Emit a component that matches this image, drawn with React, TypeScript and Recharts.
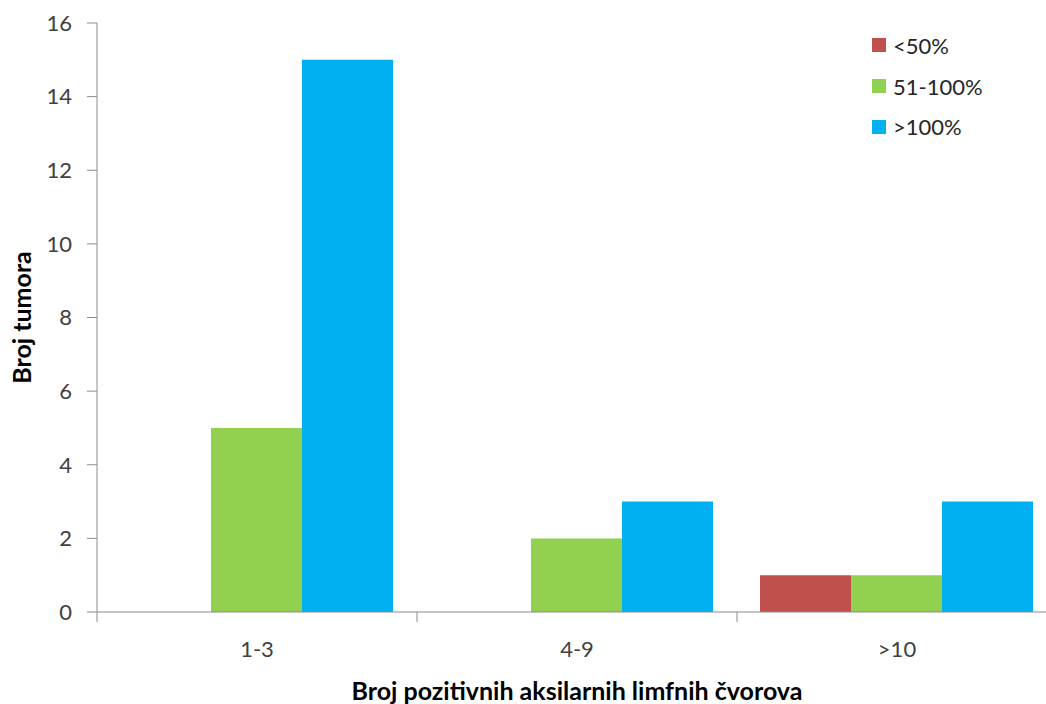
import { BarChart, Bar, XAxis, YAxis, Label } from 'recharts';

const categories = ['1-3', '4-9', '>10'];
const seriesNames = ['<50%', '51-100%', '>100%'];
const below50 = [0, 0, 1];
const from51to100 = [5, 2, 1];
const above100 = [15, 3, 3];
const yTicks = [0, 2, 4, 6, 8, 10, 12, 14, 16];

const colors = ['#C0504D', '#92D050', '#00B0F0'];
const font = 'Lato, "Open Sans", sans-serif';

const data = categories.map((c, i) => ({
  cat: c,
  a: below50[i],
  b: from51to100[i],
  c: above100[i],
}));

const HALF_BAND = 160;

function XTick(props: any) {
  const { x, y, payload, index } = props;
  const left = x - HALF_BAND;
  const last = index === categories.length - 1;
  return (
    <g>
      <line x1={left} x2={left} y1={y - 10} y2={y} stroke="#8c8c8c" />
      {last && <line x1={x + HALF_BAND} x2={x + HALF_BAND} y1={y - 10} y2={y} stroke="#8c8c8c" />}
      <text x={x} y={y + 26} textAnchor="middle" dominantBaseline="central" fill="#404040" fontSize={22} fontFamily={font}>
        {payload.value}
      </text>
    </g>
  );
}

function LegendBox() {
  return (
    <div style={{ position: 'absolute', left: 872, top: 25, fontFamily: font, fontSize: 22, color: '#262626' }}>
      {seriesNames.map((n, i) => (
        <div key={n} style={{ height: 40.7, display: 'flex', alignItems: 'center' }}>
          <span style={{ width: 14, height: 14, background: colors[i], display: 'inline-block', marginRight: 7 }} />
          <span>{n}</span>
        </div>
      ))}
    </div>
  );
}

export default function App() {
  return (
    <div style={{ position: 'absolute', left: 0, top: 0, width: 1046, height: 704, overflow: 'hidden', background: '#fff' }}>
      <BarChart
        width={1060}
        height={704}
        data={data}
        margin={{ top: 23, right: 3, left: 0, bottom: 0 }}
        barCategoryGap={23}
        barGap={0}
      >
        <XAxis
          dataKey="cat"
          height={92}
          stroke="#8c8c8c"
          tickLine={false}
          tickSize={10}
          tickMargin={0}
          tick={<XTick />}
          interval={0}
        >
          <Label
            content={({ viewBox }: any) => (
              <text
                x={viewBox.x + viewBox.width / 2}
                y={690}
                textAnchor="middle"
                dominantBaseline="central"
                fontWeight="bold"
                fontSize={25}
                fontFamily={font}
                fill="#000"
              >
                Broj pozitivnih aksilarnih limfnih čvorova
              </text>
            )}
          />
        </XAxis>
        <YAxis
          width={97}
          domain={[0, 16]}
          ticks={yTicks}
          interval={0}
          stroke="#8c8c8c"
          tickSize={10}
          tickMargin={15}
          tick={{ fill: '#404040', fontSize: 22, fontFamily: font }}
        >
          <Label
            content={({ viewBox }: any) => {
              const cx = 21;
              const cy = viewBox.y + viewBox.height / 2;
              return (
                <text
                  x={cx}
                  y={cy}
                  transform={`rotate(-90, ${cx}, ${cy})`}
                  textAnchor="middle"
                  dominantBaseline="central"
                  fontWeight="bold"
                  fontSize={25}
                  fontFamily={font}
                  fill="#000"
                >
                  Broj tumora
                </text>
              );
            }}
          />
        </YAxis>
        <Bar dataKey="a" name={seriesNames[0]} fill={colors[0]} isAnimationActive={false} />
        <Bar dataKey="b" name={seriesNames[1]} fill={colors[1]} isAnimationActive={false} />
        <Bar dataKey="c" name={seriesNames[2]} fill={colors[2]} isAnimationActive={false} />
      </BarChart>
      <LegendBox />
    </div>
  );
}
